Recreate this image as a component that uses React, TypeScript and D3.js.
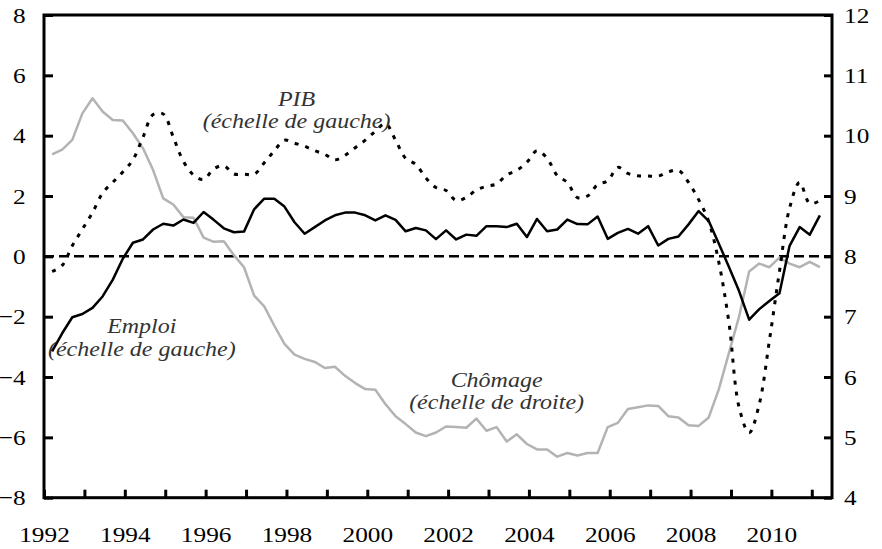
import React, { useEffect, useRef } from 'react';
import * as d3 from 'd3';

// quarterly series, 1992 to 2011
const emploi = [
    -3.15, -2.55, -2.02, -1.91, -1.71, -1.33, -0.78, -0.08, 0.45, 0.56,
    0.89, 1.08, 1.02, 1.22, 1.11, 1.47, 1.21, 0.93, 0.80, 0.82,
    1.56, 1.91, 1.91, 1.65, 1.13, 0.75, 0.97, 1.19, 1.36, 1.45,
    1.45, 1.36, 1.19, 1.36, 1.21, 0.83, 0.94, 0.86, 0.57, 0.86,
    0.56, 0.72, 0.68, 1.00, 1.00, 0.97, 1.08, 0.64, 1.24, 0.83,
    0.89, 1.22, 1.07, 1.06, 1.32, 0.58, 0.78, 0.91, 0.75, 1.00,
    0.36, 0.58, 0.66, 1.06, 1.50, 1.17, 0.42, -0.35, -1.15, -2.10,
    -1.75, -1.48, -1.22, 0.35, 0.97, 0.72, 1.36
];

const pib = [
    -0.50, -0.30, 0.35, 0.90, 1.45, 2.10, 2.45, 2.80, 3.20, 3.95,
    4.70, 4.72, 3.95, 3.15, 2.70, 2.55, 2.90, 3.00, 2.73, 2.72,
    2.72, 3.10, 3.50, 3.85, 3.75, 3.65, 3.50, 3.38, 3.20, 3.35,
    3.60, 3.85, 4.15, 4.40, 3.85, 3.25, 3.05, 2.60, 2.28, 2.18,
    1.85, 1.95, 2.20, 2.32, 2.40, 2.70, 2.85, 3.12, 3.50, 3.25,
    2.68, 2.45, 1.95, 2.00, 2.38, 2.50, 2.95, 2.75, 2.67, 2.66,
    2.66, 2.80, 2.85, 2.45, 1.88, 1.15, -0.20, -2.20, -5.00, -5.85,
    -4.90, -2.80, -0.50, 1.60, 2.45, 1.75, 1.85
];

const chomage = [
    9.69, 9.77, 9.93, 10.37, 10.62, 10.40, 10.26, 10.25, 10.04, 9.79,
    9.43, 8.96, 8.86, 8.65, 8.64, 8.31, 8.24, 8.25, 8.02, 7.82,
    7.35, 7.17, 6.85, 6.55, 6.37, 6.30, 6.25, 6.15, 6.17, 6.02,
    5.90, 5.80, 5.79, 5.55, 5.35, 5.22, 5.08, 5.02, 5.08, 5.18,
    5.17, 5.16, 5.31, 5.11, 5.17, 4.93, 5.05, 4.89, 4.80, 4.80,
    4.68, 4.74, 4.70, 4.74, 4.74, 5.17, 5.24, 5.47, 5.50, 5.53,
    5.52, 5.35, 5.33, 5.20, 5.19, 5.33, 5.80, 6.40, 7.00, 7.75,
    7.88, 7.82, 7.98, 7.88, 7.82, 7.91, 7.82
];

const firstQuarter = 1992.2;
const yearTicks = d3.range(1992, 2012);
const leftTicks = [-8, -6, -4, -2, 0, 2, 4, 6, 8];
const rightTicks = [4, 5, 6, 7, 8, 9, 10, 11, 12];

const labels = [
    { lines: ['PIB', '(échelle de gauche)'], t: 1998.25, v: [5.0, 4.25] },
    { lines: ['Emploi', '(échelle de gauche)'], t: 1994.42, v: [-2.53, -3.3] },
    { lines: ['Chômage', '(échelle de droite)'], t: 2003.2, v: [-4.32, -5.07] },
];

export default function App() {
    const ref = useRef<SVGSVGElement>(null);

    useEffect(() => {
        makeChart();
    }, []);

    const makeChart = () => {
        const svg = d3.select(ref.current);
        svg.selectAll('*').remove();

        const margin = { top: 15, right: 50, bottom: 51.3, left: 44 },
            width = 882 - margin.left - margin.right,
            height = 549 - margin.top - margin.bottom;

        const font = '"Liberation Serif", "Times New Roman", serif';

        const g = svg.append('g')
            .attr('transform', 'translate(' + margin.left + ',' + margin.top + ')');

        const x = d3.scaleLinear().domain([1992, 2011.5]).range([0, width]);
        const yL = d3.scaleLinear().domain([-8, 8]).range([height, 0]);
        const yR = d3.scaleLinear().domain([4, 12]).range([height, 0]);

        const dates = emploi.map((d, i) => firstQuarter + i * 0.25);

        // axes
        const xAxis = g.append('g')
            .attr('transform', 'translate(0,' + height + ')')
            .call(d3.axisBottom(x).tickValues(yearTicks)
                .tickFormat((d: any) => (d % 2 === 0 ? String(d) : ''))
                .tickSizeInner(-8).tickSizeOuter(0).tickPadding(28.5));

        const yAxisL = g.append('g')
            .call(d3.axisLeft(yL).tickValues(leftTicks)
                .tickSizeInner(-9).tickSizeOuter(0).tickPadding(16));

        const yAxisR = g.append('g')
            .attr('transform', 'translate(' + width + ',0)')
            .call(d3.axisRight(yR).tickValues(rightTicks)
                .tickSizeInner(-8).tickSizeOuter(0).tickPadding(10.5));

        [xAxis, yAxisL, yAxisR].forEach(a => {
            a.select('.domain').remove();
            a.selectAll('line').attr('stroke', '#000').attr('stroke-width', 3);
            a.selectAll('text')
                .attr('font-family', font)
                .attr('font-size', 22)
                .attr('fill', '#000')
                .attr('transform', 'scale(1.15,1)');
        });

        // zero line
        g.append('line')
            .attr('x1', 0).attr('x2', width)
            .attr('y1', yL(0)).attr('y2', yL(0))
            .attr('stroke', '#000')
            .attr('stroke-width', 2.5)
            .attr('stroke-dasharray', '10,5');

        // unemployment (right scale)
        g.append('path')
            .datum(chomage)
            .attr('fill', 'none')
            .attr('stroke', '#b3b3b3')
            .attr('stroke-width', 2.5)
            .attr('stroke-linejoin', 'round')
            .attr('d', d3.line<number>()
                .x((d, i) => x(dates[i]))
                .y(d => yR(d)));

        // GDP
        g.append('path')
            .datum(pib)
            .attr('fill', 'none')
            .attr('stroke', '#000')
            .attr('stroke-width', 3)
            .attr('stroke-dasharray', '4,7')
            .attr('d', d3.line<number>()
                .curve(d3.curveCatmullRom.alpha(0.5))
                .x((d, i) => x(dates[i]))
                .y(d => yL(d)));

        // employment
        g.append('path')
            .datum(emploi)
            .attr('fill', 'none')
            .attr('stroke', '#000')
            .attr('stroke-width', 2.5)
            .attr('stroke-linejoin', 'round')
            .attr('d', d3.line<number>()
                .x((d, i) => x(dates[i]))
                .y(d => yL(d)));

        // frame
        g.append('rect')
            .attr('width', width)
            .attr('height', height)
            .attr('fill', 'none')
            .attr('stroke', '#000')
            .attr('stroke-width', 3);

        // series labels
        labels.forEach(l => {
            l.lines.forEach((txt, k) => {
                g.append('g')
                    .attr('transform', 'translate(' + x(l.t) + ',' + yL(l.v[k]) + ') scale(1.2,1)')
                    .append('text')
                    .attr('text-anchor', 'middle')
                    .attr('font-family', font)
                    .attr('font-style', 'italic')
                    .attr('font-size', 20)
                    .attr('fill', '#333')
                    .text(txt);
            });
        });
    };

    return (
        <svg ref={ref} width={882} height={549}
            style={{ position: 'absolute', left: 0, top: 0, background: '#fff' }} />
    );
}
